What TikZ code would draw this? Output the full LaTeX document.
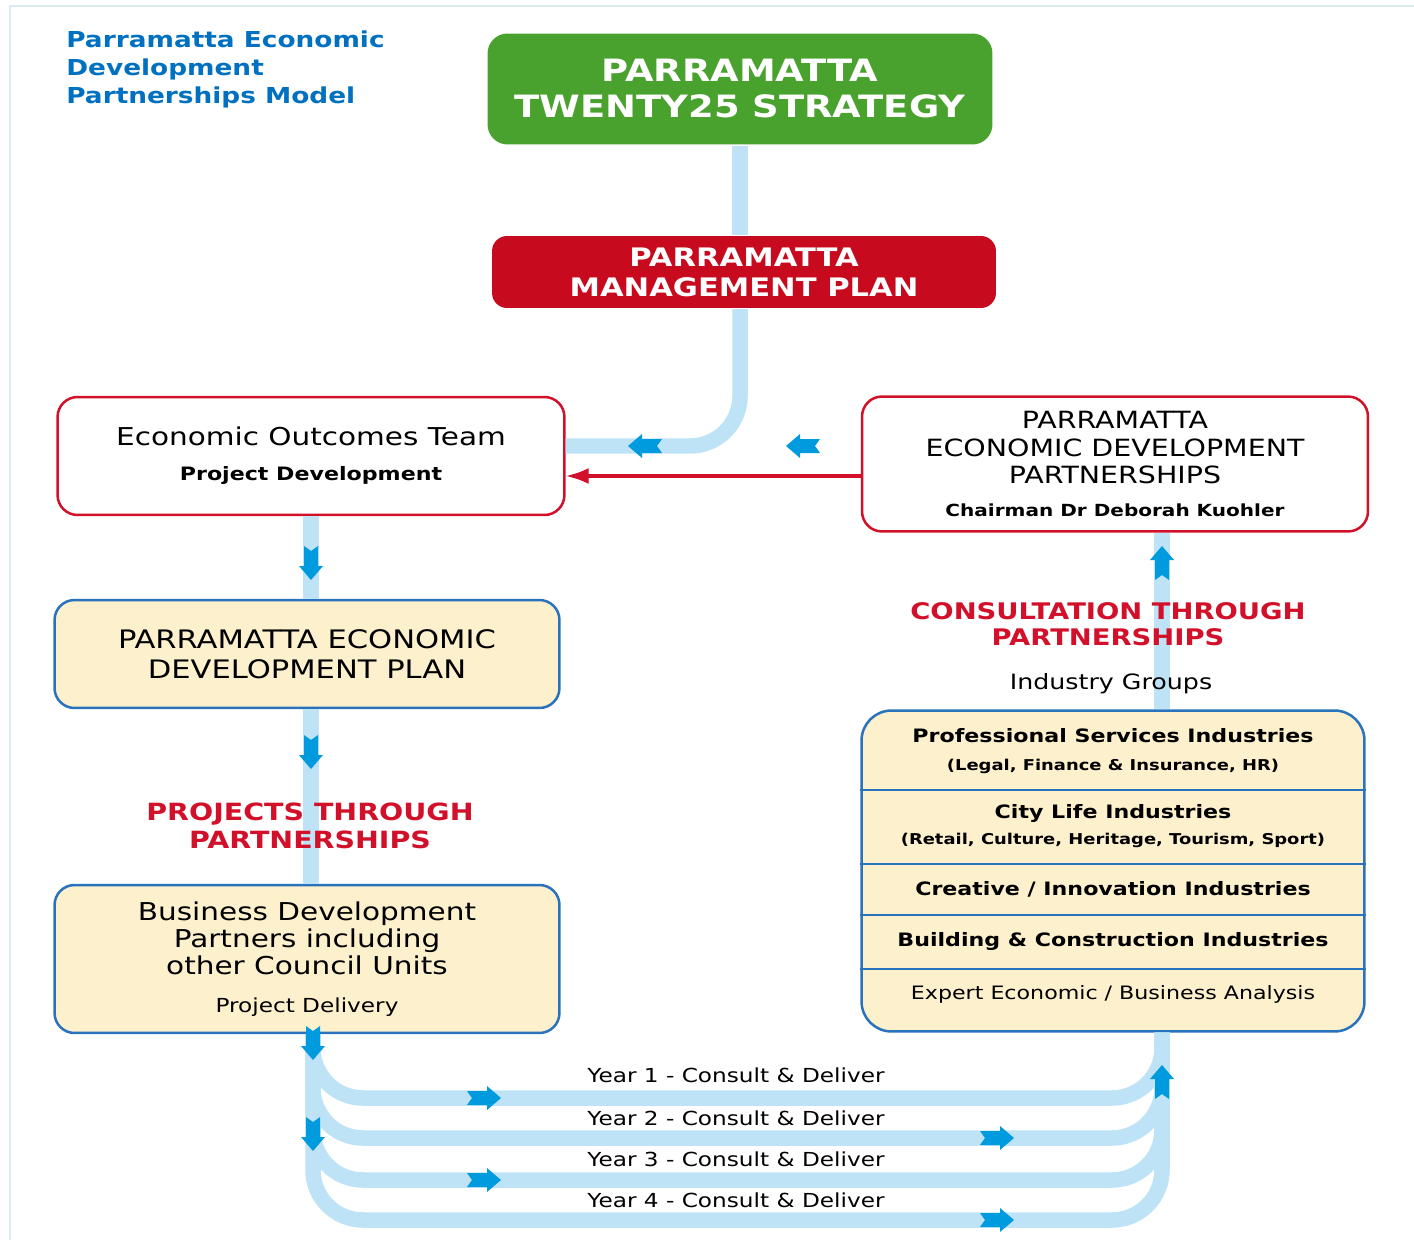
\documentclass[tikz,border=0pt]{standalone}
\usepackage{fontspec}
\setmainfont{DejaVu Sans}[FakeStretch=1.2]
\usetikzlibrary{positioning,arrows.meta}
\definecolor{strategygreen}{RGB}{74,162,46}
\definecolor{planred}{RGB}{200,10,30}
\definecolor{outlinered}{RGB}{210,16,42}
\definecolor{titleblue}{RGB}{0,112,192}
\definecolor{flowblue}{RGB}{190,227,246}
\definecolor{arrowblue}{RGB}{0,155,222}
\definecolor{cream}{RGB}{253,240,205}
\definecolor{outlineblue}{RGB}{40,115,188}
\definecolor{framecol}{RGB}{215,236,240}

\begin{document}
\begin{tikzpicture}[x=0.02cm, y=-0.02cm, every node/.style={inner sep=0pt}]
\tikzstyle{box}=[draw, rounded corners=0.4cm, align=center, line width=0.05cm, minimum width=10.1cm]
\tikzstyle{redbox}=[box, draw=outlinered, fill=white]
\tikzstyle{creambox}=[box, draw=outlineblue, fill=cream]
\tikzstyle{flowline}=[draw=flowblue, line width=0.31cm]
\tikzstyle{rowtext}=[align=center, font=\bfseries\fontsize{10.5}{13}\selectfont]
\tikzset{flowarrow/.pic={\fill[arrowblue] (-17,-7) -- (3,-7) -- (3,-12) -- (17,0) -- (3,12) -- (3,7) -- (-17,7) -- (-12,0) -- cycle;}}
\useasboundingbox (0,0) rectangle (1414,1240);
\draw[framecol, line width=0.04cm] (10,1240) -- (10,6) -- (1414,6);

\node[anchor=north west, align=left, text=titleblue, font=\bfseries\fontsize{12.5}{16}\selectfont] (title) at (66,30) {Parramatta Economic\\Development\\Partnerships Model};

\node[box, draw=none, fill=strategygreen, text=white, minimum height=2.22cm, font=\bfseries\fontsize{17.5}{20.5}\selectfont] (strategy) at (740,89) {PARRAMATTA\\TWENTY25 STRATEGY};
\node[box, draw=none, fill=planred, text=white, minimum width=10.08cm, minimum height=1.44cm, rounded corners=0.3cm, font=\bfseries\fontsize{14.5}{17}\selectfont] (mgmtplan) at (744,272) {PARRAMATTA\\MANAGEMENT PLAN};

\node[redbox, minimum width=10.14cm, minimum height=2.36cm] (outcomes) at (311,456) {{\fontsize{14}{16}\selectfont Economic Outcomes Team}\\[8pt]{\bfseries\fontsize{10.5}{12}\selectfont Project Development}};
\node[redbox, minimum width=10.12cm, minimum height=2.7cm, font=\fontsize{13.5}{15.8}\selectfont] (edpartners) at (1115,464) {PARRAMATTA\\ECONOMIC DEVELOPMENT\\PARTNERSHIPS\\[3pt]{\bfseries\fontsize{9.5}{11}\selectfont Chairman Dr Deborah Kuohler}};

\node[creambox, minimum height=2.16cm, font=\fontsize{14.5}{17}\selectfont] (edplan) at (307,654) {PARRAMATTA ECONOMIC\\DEVELOPMENT PLAN};
\node[creambox, minimum height=2.96cm, font=\fontsize{14}{15.5}\selectfont] (bizdev) at (307,959) {Business Development\\Partners including\\other Council Units\\[6pt]{\fontsize{11}{13}\selectfont Project Delivery}};

\node[creambox, minimum width=10.06cm, minimum height=6.42cm, rounded corners=0.6cm] (industries) at (1113,871) {};
\foreach \y in {790,864,915,969}
  \draw[outlineblue, line width=0.05cm] (industries.west |- 0,\y) -- (industries.east |- 0,\y);
\node[rowtext] (profserv) at (1113,751) {Professional Services Industries\\[3pt]{\fontsize{8.5}{10}\selectfont (Legal, Finance \& Insurance, HR)}};
\node[rowtext] (citylife) at (1113,826) {City Life Industries\\[2pt]{\fontsize{8.5}{10}\selectfont (Retail, Culture, Heritage, Tourism, Sport)}};
\node[rowtext] (creative) at (1113,889) {Creative / Innovation Industries};
\node[rowtext] (building) at (1113,941) {Building \& Construction Industries};
\node[rowtext, font=\fontsize{10.5}{13}\selectfont] (analysis) at (1113,994) {Expert Economic / Business Analysis};

\draw[flowline] (strategy.south) -- (strategy.south |- mgmtplan.north);
\draw[flowline, rounded corners=1cm] (mgmtplan.south -| strategy.south) |- (outcomes.east |- 0,446);
\draw[outlinered, line width=0.065cm, -{Latex[length=0.46cm,width=0.32cm]}] (edpartners.west |- 0,476) -- (outcomes.east |- 0,476);
\draw[flowline] (outcomes.south) -- (outcomes.south |- edplan.north);
\draw[flowline] (edplan.south -| outcomes.south) -- (bizdev.north -| outcomes.south);
\draw[flowline] (industries.north -| 1162,0) -- (edpartners.south -| 1162,0);
\foreach \y in {1098,1138,1180,1220}
  \draw[flowline, rounded corners=1cm] (bizdev.south -| 313,0) |- (1162,\y) -- (industries.south -| 1162,0);

\pic[rotate=180] at (645,446) {flowarrow};
\pic[rotate=180] at (803,446) {flowarrow};
\pic[rotate=-90] at (311,563) {flowarrow};
\pic[rotate=-90] at (311,752) {flowarrow};
\pic[rotate=90] at (1162,563) {flowarrow};
\pic[rotate=-90] at (313,1043) {flowarrow};
\pic[rotate=-90] at (313,1134) {flowarrow};
\pic at (484,1098) {flowarrow};
\pic at (997,1138) {flowarrow};
\pic at (484,1180) {flowarrow};
\pic at (997,1220) {flowarrow};
\pic[rotate=90] at (1162,1082) {flowarrow};

\node[align=center, text=outlinered, font=\bfseries\fontsize{13.5}{16}\selectfont] (projects) at (310,826) {PROJECTS THROUGH\\PARTNERSHIPS};
\node[align=center, text=outlinered, font=\bfseries\fontsize{13}{14.5}\selectfont] (consult) at (1108,624) {CONSULTATION THROUGH\\PARTNERSHIPS};
\node[font=\fontsize{12}{14}\selectfont] (groups) at (1111,684) {Industry Groups};
\foreach \n/\y in {1/1075,2/1118,3/1159,4/1200}
  \node[font=\fontsize{11}{13}\selectfont] (year\n) at (736,\y) {Year \n\ - Consult \& Deliver};
\end{tikzpicture}
\end{document}
